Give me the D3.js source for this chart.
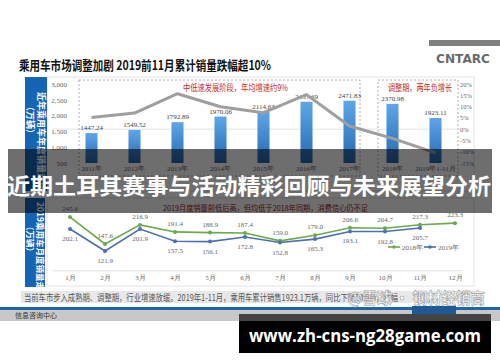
<!DOCTYPE html>
<html><head><meta charset="utf-8">
<script src="https://cdn.jsdelivr.net/npm/d3@7"></script>
<style>
html,body{margin:0;padding:0;background:#fff;}
svg{display:block;font-family:"Noto Sans CJK SC","Noto Sans",sans-serif;}
</style></head>
<body>
<svg id="c" width="500" height="362"></svg>
<script>
// ---------- data ----------
const years = ["2011年","2012年","2013年","2014年","2015年","2016年","2017年","2018年","2019年1-11月"];
const annualSales = [1447.24,1549.52,1792.89,1970.06,2114.63,2437.69,2471.83,2370.98,1923.11];
const annualGrowth = [5.2,7.1,15.7,9.9,7.3,15.3,1.4,-4.1,-10.5];
const leftTicks = [500,1000,1500,2000,2500,3000];
const rightTicks = [-15,-10,-5,0,5,10,15,20];
const months = ["1月","2月","3月","4月","5月","6月","7月","8月","9月","10月","11月","12月"];
const sales2018 = [245.6,147.6,216.9,191.4,188.9,187.4,159.0,179.0,206.6,204.7,217.3,223.3];
const sales2019 = [202.1,121.9,201.9,157.5,156.1,172.8,152.8,165.3,193.1,192.8,205.7];
const seriesNames = ["2018年","2019年"];

const svg = d3.select("#c");
const numFont = "'Liberation Serif','DejaVu Serif',serif";

const defs = svg.append("defs");
const g = defs.append("linearGradient").attr("id","bar").attr("x1",0).attr("y1",0).attr("x2",0).attr("y2",1);
g.append("stop").attr("offset","0%").attr("stop-color","#5fa6e8");
g.append("stop").attr("offset","100%").attr("stop-color","#2568b0");

// ---------- header ----------
svg.append("rect").attr("x",429).attr("y",40).attr("width",71).attr("height",6).attr("fill","#808080");
svg.append("text").attr("x",436).attr("y",63).attr("font-family","'DejaVu Sans',sans-serif")
  .attr("font-weight","bold").attr("font-size",13).attr("fill","#6a6a6a")
  .attr("textLength",54).attr("lengthAdjust","spacingAndGlyphs").text("CNTARC");
svg.append("text").attr("x",19).attr("y",70).attr("font-weight","bold").attr("font-size",13)
  .attr("fill","#111").attr("textLength",252).attr("lengthAdjust","spacingAndGlyphs")
  .text("乘用车市场调整加剧 2019前11月累计销量跌幅超10%");

// ---------- top chart ----------
svg.append("rect").attr("x",47).attr("y",77).attr("width",427).attr("height",114)
  .attr("fill","#fff").attr("stroke","#e2e2e2");
svg.append("rect").attr("x",25).attr("y",77).attr("width",22).attr("height",114).attr("fill","#1565b4");
const vt1 = svg.append("text").attr("transform","translate(36,80) rotate(90)")
  .attr("fill","#fff").attr("font-size",9).attr("font-weight","bold");
vt1.append("tspan").attr("x",12).attr("dy",-2).text("近年乘用车年度销量走势");
vt1.append("tspan").attr("x",22).attr("dy",11).text("（万辆）");

const xB = d3.scaleBand().domain(years).range([70,457]).paddingInner(0.72).paddingOuter(0.36);
const yL = d3.scaleLinear().domain([500,3000]).range([163,84]);
const yR = d3.scaleLinear().domain([-15,20]).range([163,84]);

// gridline at 0%
svg.append("line").attr("x1",52).attr("x2",458).attr("y1",yR(0)).attr("y2",yR(0)).attr("stroke","#e4e4e4");

// dashed boxes
svg.append("rect").attr("x",79).attr("y",80).attr("width",281).attr("height",96)
  .attr("fill","none").attr("stroke","#9a9a9a").attr("stroke-dasharray","2,2").attr("stroke-width",0.8);
svg.append("rect").attr("x",378).attr("y",80).attr("width",80).attr("height",96)
  .attr("fill","none").attr("stroke","#9a9a9a").attr("stroke-dasharray","2,2").attr("stroke-width",0.8);

// axes
const axL = svg.append("g").attr("transform","translate(67,0)")
  .call(d3.axisLeft(yL).tickValues(leftTicks).tickSize(0).tickPadding(0));
axL.select(".domain").remove();
axL.selectAll("text").attr("font-family",numFont).attr("font-size",7).attr("fill","#666");
const axR = svg.append("g").attr("transform","translate(460,0)")
  .call(d3.axisRight(yR).tickValues(rightTicks).tickSize(0).tickPadding(0).tickFormat(d=>d+"%"));
axR.select(".domain").remove();
axR.selectAll("text").attr("font-family",numFont).attr("font-size",6.5).attr("fill","#666");
const axB = svg.append("g").attr("transform","translate(0,166)")
  .call(d3.axisBottom(xB).tickSize(0).tickPadding(0));
axB.select(".domain").remove();
axB.selectAll("text").attr("font-family",numFont).attr("font-size",7).attr("fill","#666");

// bars
svg.append("g").selectAll("rect").data(years).join("rect")
  .attr("x",d=>xB(d)).attr("width",xB.bandwidth())
  .attr("y",(d,i)=>yL(annualSales[i])).attr("height",(d,i)=>yL(500)-yL(annualSales[i]))
  .attr("fill","url(#bar)");
svg.append("g").selectAll("text").data(years).join("text")
  .attr("x",d=>xB(d)+xB.bandwidth()/2).attr("y",(d,i)=>yL(annualSales[i])-3)
  .attr("text-anchor","middle").attr("font-family",numFont).attr("font-size",7).attr("fill","#444")
  .text((d,i)=>annualSales[i].toFixed(2));

// growth line
const lineG = d3.line().x((d,i)=>xB(years[i])+xB.bandwidth()/2).y(d=>yR(d));
svg.append("path").datum(annualGrowth).attr("d",lineG).attr("fill","none")
  .attr("stroke","#9e9e9e").attr("stroke-width",3).attr("stroke-linejoin","round");

svg.append("text").attr("x",183).attr("y",91).attr("font-size",9).attr("fill","#c62828")
  .attr("textLength",105).attr("lengthAdjust","spacingAndGlyphs").text("中低速发展阶段，年均增速约9%");
svg.append("text").attr("x",388).attr("y",91).attr("font-size",9).attr("fill","#c62828")
  .attr("textLength",64).attr("lengthAdjust","spacingAndGlyphs").text("调整期，两年负增长");

// ---------- bottom chart ----------
svg.append("rect").attr("x",47).attr("y",198).attr("width",427).attr("height",88)
  .attr("fill","#fff").attr("stroke","#e2e2e2");
svg.append("rect").attr("x",25).attr("y",198).attr("width",20).attr("height",89).attr("fill","#1565b4");
const vt2 = svg.append("text").attr("transform","translate(35,200) rotate(90)")
  .attr("fill","#fff").attr("font-size",8.5).attr("font-weight","bold");
vt2.append("tspan").attr("x",2).attr("dy",-2).text("2019乘用车月度销量走势");
vt2.append("tspan").attr("x",22).attr("dy",10).text("（万辆）");

const xM = d3.scalePoint().domain(months).range([70,455]);
const yM = d3.scaleLinear().domain([50,250]).range([270.8,215.8]);

svg.append("line").attr("x1",52).attr("x2",462).attr("y1",yM(50)).attr("y2",yM(50)).attr("stroke","#e2e2e2");
const axM = svg.append("g").attr("transform","translate(0,275)")
  .call(d3.axisBottom(xM).tickSize(0).tickPadding(0));
axM.select(".domain").remove();
axM.selectAll("text").attr("font-family",numFont).attr("font-size",7).attr("fill","#666");

svg.append("text").attr("x",163).attr("y",211).attr("font-size",8).attr("fill","#9b1c1c")
  .attr("textLength",205).attr("lengthAdjust","spacingAndGlyphs")
  .text("2019月度销量前低后高，但均低于2018年同期，消费信心仍不足");

const series = [
  {name:seriesNames[0], vals:sales2018, color:"#6aab4a", dy:-6},
  {name:seriesNames[1], vals:sales2019, color:"#4a6fb5", dy:12}
];
const lineM = d3.line().x((d,i)=>xM(months[i])).y(d=>yM(d));
series.forEach(s=>{
  svg.append("path").datum(s.vals).attr("d",lineM).attr("fill","none")
    .attr("stroke",s.color).attr("stroke-width",1.6);
  svg.append("g").selectAll("circle").data(s.vals).join("circle")
    .attr("cx",(d,i)=>xM(months[i])).attr("cy",d=>yM(d)).attr("r",2).attr("fill",s.color);
  svg.append("g").selectAll("text").data(s.vals).join("text")
    .attr("x",(d,i)=>xM(months[i])).attr("y",d=>yM(d)+s.dy)
    .attr("text-anchor","middle").attr("font-family",numFont).attr("font-size",7).attr("fill","#666")
    .text(d=>d.toFixed(1));
});
// legend
series.forEach((s,k)=>{
  const lx = 388 + k*36;
  svg.append("line").attr("x1",lx).attr("x2",lx+12).attr("y1",247).attr("y2",247).attr("stroke",s.color).attr("stroke-width",1.6);
  svg.append("circle").attr("cx",lx+6).attr("cy",247).attr("r",1.8).attr("fill",s.color);
  svg.append("text").attr("x",lx+14).attr("y",249.5).attr("font-family",numFont).attr("font-size",7).attr("fill","#666").text(s.name);
});

// ---------- footer ----------
svg.append("rect").attr("x",21).attr("y",291).attr("width",452).attr("height",12).attr("fill","#e8e8e8");
svg.append("text").attr("x",24).attr("y",300.5).attr("font-size",9).attr("fill","#555")
  .attr("textLength",374).attr("lengthAdjust","spacingAndGlyphs")
  .text("当前车市步入成熟期、调整期，行业增速放缓。2019年1-11月，乘用车累计销售1923.1万辆，同比下降10.5%，跌幅");
svg.append("rect").attr("x",0).attr("y",307).attr("width",500).attr("height",3).attr("fill","#1f63a8");
svg.append("rect").attr("x",0).attr("y",310).attr("width",500).attr("height",11).attr("fill","#c8c8c8");
svg.append("rect").attr("x",412).attr("y",306).attr("width",44).attr("height",13).attr("fill","#1f5a96");
svg.append("text").attr("x",15).attr("y",318).attr("font-size",7).attr("fill","#333").text("信息咨询中心");

// watermark
svg.append("text").attr("x",348).attr("y",304).attr("font-size",16).attr("font-weight","bold")
  .attr("fill","#fff").attr("fill-opacity",0.85).attr("stroke","#9a9a9a").attr("stroke-width",0.6)
  .attr("textLength",137).attr("lengthAdjust","spacingAndGlyphs").text("@雪球 · 钢材经销商");

// overlay banner
svg.append("rect").attr("x",8).attr("y",149).attr("width",484).attr("height",64).attr("fill","#000").attr("fill-opacity",0.57);
svg.append("text").attr("x",249).attr("y",194).attr("text-anchor","middle").attr("font-size",22)
  .attr("font-weight","bold").attr("fill","#fff").attr("textLength",484).attr("lengthAdjust","spacingAndGlyphs")
  .text("近期土耳其赛事与活动精彩回顾与未来展望分析");

// url box
svg.append("rect").attr("x",239).attr("y",314).attr("width",252).attr("height",7).attr("fill","#444");
svg.append("rect").attr("x",239).attr("y",321).attr("width",252).attr("height",32).attr("fill","#000");
svg.append("text").attr("x",365).attr("y",342).attr("text-anchor","middle").attr("font-size",17)
  .attr("font-weight","bold").attr("fill","#fff").attr("font-family","'Open Sans','DejaVu Sans',sans-serif")
  .attr("textLength",232).attr("lengthAdjust","spacingAndGlyphs").text("www.zh-cns-ng28game.com");
</script>
</body></html>
